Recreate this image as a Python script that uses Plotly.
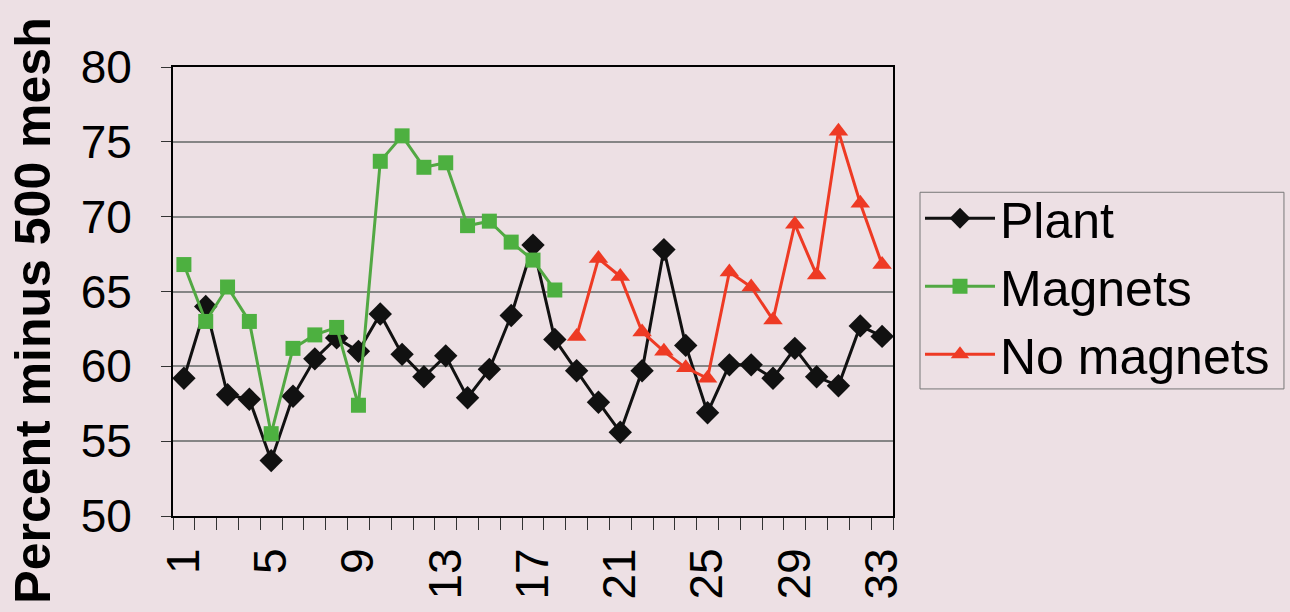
import plotly.graph_objects as go

# ---- data ----
categories = list(range(1, 34))
tick_values = [1, 5, 9, 13, 17, 21, 25, 29, 33]
tick_labels = ["1", "5", "9", "13", "17", "21", "25", "29", "33"]

plant_x = list(range(1, 34))
plant = [59.2, 64.0, 58.1, 57.8, 53.7, 58.0, 60.5, 61.9, 61.0, 63.5, 60.8,
         59.3, 60.7, 57.9, 59.8, 63.4, 68.1, 61.8, 59.7, 57.6, 55.6, 59.7,
         67.8, 61.4, 56.9, 60.1, 60.1, 59.2, 61.2, 59.3, 58.7, 62.7, 62.0]

magnets_x = list(range(1, 19))
magnets = [66.8, 63.0, 65.3, 63.0, 55.5, 61.2, 62.1, 62.6, 57.4, 73.7, 75.4,
           73.3, 73.6, 69.4, 69.7, 68.3, 67.1, 65.1]

no_magnets_x = list(range(19, 34))
no_magnets = [62.0, 67.2, 66.0, 62.3, 61.0, 59.9, 59.2, 66.3, 65.3, 63.1,
              69.5, 66.1, 75.7, 70.9, 66.8]

y_title = "Percent minus 500 mesh"

BG = "#EDE0E4"
FONT = "Liberation Sans, Arial, sans-serif"

fig = go.Figure()
fig.add_trace(go.Scatter(
    x=plant_x, y=plant, name="Plant", mode="lines+markers",
    line=dict(color="#111111", width=3),
    marker=dict(symbol="diamond", size=18, color="#111111"),
))
fig.add_trace(go.Scatter(
    x=magnets_x, y=magnets, name="Magnets", mode="lines+markers",
    line=dict(color="#52A843", width=3),
    marker=dict(symbol="square", size=15, color="#4DB040"),
))
fig.add_trace(go.Scatter(
    x=no_magnets_x, y=no_magnets, name="No magnets", mode="lines+markers",
    line=dict(color="#EE3A24", width=3),
    marker=dict(symbol="triangle-up", size=17, color="#EE3A24"),
))

fig.update_layout(
    width=1290, height=612,
    paper_bgcolor=BG, plot_bgcolor=BG,
    margin=dict(l=173, r=397, t=67, b=93),
    font=dict(family=FONT, color="black"),
    showlegend=True,
    legend=dict(
        x=1.0375, y=0.75, xanchor="left", yanchor="top",
        bgcolor="rgba(0,0,0,0)", borderwidth=0,
        font=dict(size=50, family=FONT, color="black"),
        itemwidth=70,
    ),
    shapes=[dict(
        type="rect", xref="paper", yref="paper",
        x0=1.0375, x1=1.543, y0=0.283, y1=0.721,
        line=dict(color="#777777", width=1), fillcolor="rgba(0,0,0,0)",
    )],
    annotations=[dict(
        text="<b>" + y_title + "</b>", textangle=-90,
        xref="paper", yref="paper", x=-0.194, y=0.458,
        xanchor="center", yanchor="middle", showarrow=False,
        font=dict(size=50, family=FONT, color="black"),
    )],
)

fig.update_xaxes(
    range=[0.5, 33.5],
    tickmode="array", tickvals=tick_values, ticktext=tick_labels,
    tickangle=-90,
    ticks="outside", ticklen=12, tickcolor="rgba(0,0,0,0)",
    minor=dict(tickmode="array", tickvals=[c - 0.5 for c in categories] + [33.5],
               ticks="outside", ticklen=12, tickcolor="#333333", tickwidth=1),
    showline=True, linecolor="black", linewidth=2, mirror=True,
    showgrid=False, zeroline=False,
    tickfont=dict(size=46, family=FONT, color="black"),
)

fig.update_yaxes(
    range=[50, 80], tickmode="linear", tick0=50, dtick=5,
    ticks="outside", ticklen=10, tickcolor="#333333",
    showline=True, linecolor="black", linewidth=2, mirror=True,
    showgrid=True, gridcolor="#858585", gridwidth=1.5, zeroline=False,
    tickfont=dict(size=46, family=FONT, color="black"),
    ticklabelstandoff=20,
)

fig.write_html("out.html",
               config={"displayModeBar": False},
               post_script="document.body.style.margin='0';"
                           "document.body.style.background='" + BG + "';")
